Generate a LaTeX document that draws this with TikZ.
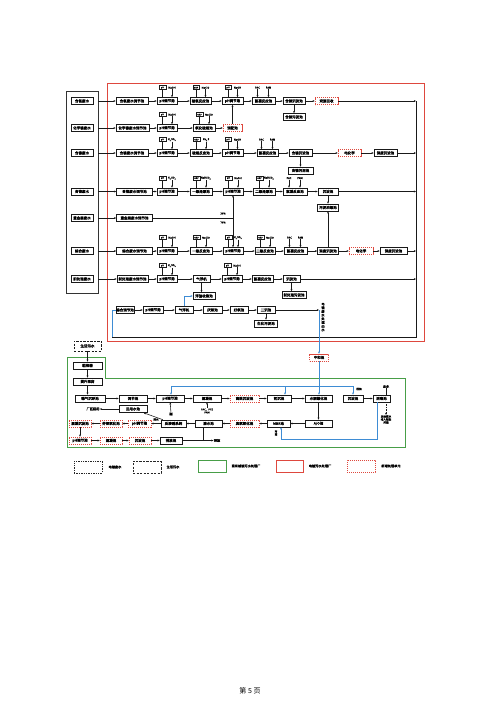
\documentclass[tikz,border=0pt]{standalone}
\usepackage{fontspec}
\setmainfont{Noto Sans CJK SC}[AutoFakeBold=1.6]
\usetikzlibrary{arrows.meta,calc}
\definecolor{redL}{RGB}{222,72,62}
\definecolor{greenL}{RGB}{72,158,72}
\definecolor{blueL}{RGB}{62,140,212}
\newcommand\fsA{\fontsize{3.5}{4}\selectfont\bfseries}
\newcommand\fsC{\fontsize{2.6}{3}\selectfont\bfseries}
\newcommand\fsM{\fontsize{2.2}{2.4}\selectfont\bfseries}
\newcommand\fsL{\fontsize{3.2}{3.8}\selectfont\bfseries}
\newcommand\ssub[1]{\textsubscript{#1}}
\tikzset{
 wd/.style={minimum width=#1pt},
 bx/.style={draw=black!90, line width=0.65pt, fill=white, inner sep=0pt, minimum height=7pt, font=\fsA},
 rdb/.style={bx, draw=redL, line width=0.55pt, dash pattern=on 1.2pt off 0.8pt},
 mtr/.style={draw=black!90, line width=0.5pt, fill=white, inner sep=0pt, minimum width=6.5pt, minimum height=4pt, font=\fsM},
 chem/.style={inner sep=0.2pt, font=\fsC},
 ar/.style={-{Stealth[length=2.2pt,width=1.9pt]}, line width=0.55pt, draw=black!90},
 ln/.style={line width=0.55pt, draw=black!90},
 bl/.style={line width=0.7pt, draw=blueL},
 bla/.style={bl, -{Stealth[length=2.2pt,width=1.9pt]}},
}
\newcommand\dose[3]{%
  \node[mtr] (#1m) at ($(#1.north)+(-4.5,-9.5)$) {#2};
  \draw[ln] (#1m.south) -- (#1m.south |- #1.north);
  \node[chem] (#1c) at ($(#1.north)+(5,-9.5)$) {#3};
  \draw[ar] (#1c.south) -- (#1c.south |- #1.north);
}
\newcommand\dosetwo[3]{%
  \node[chem] (#1c) at ($(#1.north)+(-6,-9.5)$) {#2};
  \draw[ar] (#1c.south) -- (#1c.south |- #1.north);
  \node[chem] (#1d) at ($(#1.north)+(5,-9.5)$) {#3};
  \draw[ar] (#1d.south) -- (#1d.south |- #1.north);
}
\begin{document}
\begin{tikzpicture}[x=1pt,y=-1pt]
\useasboundingbox (0,0) rectangle (500,707);
\fill[white] (0,0) rectangle (500,707);

% frames
\draw[line width=0.9pt, draw=black!80] (66,91) rectangle (98,293);
\draw[line width=0.9pt, draw=redL] (107,83) rectangle (424,341);
\draw[line width=0.9pt, draw=greenL] (67,357) -- (105,357) -- (105,378) -- (405,378) -- (405,447) -- (67,447) -- cycle;
\coordinate (fr) at (98,0);

% sources
\node[bx, wd=22] (s1) at (82,101) {含氰废水};
\node[bx, wd=22] (s2) at (82,128) {化学镍废水};
\node[bx, wd=22] (s3) at (82,153) {含镍废水};
\node[bx, wd=22] (s4) at (82,191.5) {含铬废水};
\node[bx, wd=22] (s5) at (82,218) {重金属废水};
\node[bx, wd=22] (s6) at (82,251) {综合废水};
\node[bx, wd=22] (s7) at (82,279) {前处理废水};

% row 1
\node[bx, wd=32] (a1) at (132,101) {含氰废水调节池};
\node[bx, wd=20] (a2) at (167,101) {pH调节池};
\node[bx, wd=21] (a3) at (200.5,101) {破氰反应池};
\node[bx, wd=21] (a4) at (232.5,101) {pH调节池};
\node[bx, wd=23] (a5) at (263.5,101) {絮凝反应池};
\node[bx, wd=22] (a6) at (294,101) {含铜沉淀池};
\node[bx, wd=22] (a7) at (294,117) {含铜污泥池};
\node[rdb, wd=23] (a8) at (326.5,101) {资源回收};
\dose{a2}{pH}{NaOH}
\dose{a3}{ORP}{NaClO}
\dose{a4}{pH}{NaOH}
\dosetwo{a5}{PAC}{PAM}

% row 2
\node[bx, wd=33] (b1) at (132.5,128) {化学镍废水调节池};
\node[bx, wd=20] (b2) at (167,128) {pH调节池};
\node[bx, wd=22] (b3) at (204,128) {氧化破络池};
\node[rdb, wd=19] (b4) at (232.5,128) {调配池};
\dose{b2}{pH}{NaOH}
\dose{b3}{ORP}{NaClO}

% row 3
\node[bx, wd=32] (c1) at (132,153) {含镍废水调节池};
\node[bx, wd=20] (c2) at (167,153) {pH调节池};
\node[bx, wd=22] (c3) at (201,153) {破络反应池};
\node[bx, wd=21] (c4) at (232.5,153) {pH调节池};
\node[bx, wd=21] (c5) at (267.5,153) {絮凝反应池};
\node[bx, wd=23] (c6) at (300.5,153) {含镍沉淀池};
\node[bx, wd=25] (c7) at (300.5,170.5) {含镍污泥池};
\node[rdb, wd=23] (c8) at (349.5,153) {电化学};
\node[bx, wd=23] (c9) at (385.5,153) {深度沉淀池};
\dose{c2}{pH}{H\ssub{2}SO\ssub{4}}
\dose{c3}{ORP}{Na\ssub{2}S}
\dose{c4}{pH}{NaOH}
\dosetwo{c5}{PAC}{PAM}

% row 4
\node[bx, wd=36] (d1) at (134.5,191.5) {含铬废水调节池};
\node[bx, wd=20] (d2) at (167,191.5) {pH调节池};
\node[bx, wd=22] (d3) at (201,191.5) {一级还原池};
\node[bx, wd=20] (d4) at (233,191.5) {pH调节池};
\node[bx, wd=22] (d5) at (264,191.5) {二级还原池};
\node[bx, wd=24] (d6) at (295,191.5) {絮凝反应池};
\node[bx, wd=20] (d7) at (328,191.5) {沉淀池};
\node[bx, wd=21] (d8) at (328,207.5) {污泥浓缩池};
\dose{d2}{pH}{H\ssub{2}SO\ssub{4}}
\dose{d3}{ORP}{NaHSO\ssub{3}}
\dose{d4}{pH}{NaOH}
\dose{d5}{ORP}{NaHSO\ssub{3}}
\dosetwo{d6}{PAC}{PAM}

% row 5
\node[bx, wd=36] (e1) at (134.5,218) {重金属废水调节池};
\coordinate (j5) at (233,218);

% row 6
\node[bx, wd=36] (f1) at (134.5,251) {综合废水调节池};
\node[bx, wd=20] (f2) at (167,251) {pH调节池};
\node[bx, wd=22] (f3) at (201,251) {一级反应池};
\node[bx, wd=20] (f4) at (233,251) {pH调节池};
\node[bx, wd=20] (f5) at (265,251) {二级反应池};
\node[bx, wd=23] (f6) at (295.5,251) {絮凝反应池};
\node[bx, wd=21] (f7) at (328,251) {深度沉淀池};
\node[rdb, wd=24] (f8) at (361,251) {电化学};
\node[bx, wd=27] (f9) at (393.5,251) {深度沉淀池};
\dose{f2}{pH}{NaOH}
\dose{f3}{ORP}{NaClO}
\dose{f4}{pH}{H\ssub{2}SO\ssub{4}}
\dose{f5}{ORP}{NaClO}
\dosetwo{f6}{PAC}{PAM}

% row 7
\node[bx, wd=31] (g1) at (132.5,279) {前处理废水调节池};
\node[bx, wd=20] (g2) at (167,279) {pH调节池};
\node[bx, wd=17] (g3) at (201.5,279) {气浮机};
\node[bx, wd=20] (g4) at (232,279) {pH调节池};
\node[bx, wd=21] (g5) at (262.5,279) {絮凝反应池};
\node[bx, wd=17] (g6) at (291.5,279) {沉淀池};
\node[bx, wd=24] (g7) at (294,295) {前处理污泥池};
\node[bx, wd=22] (g8) at (204,296) {浮渣收集池};
\dose{g2}{pH}{H\ssub{2}SO\ssub{4}}
\dose{g4}{pH}{NaOH}

% row 8
\node[bx, wd=18] (h1) at (125,310) {综合调节池};
\node[bx, wd=20] (h2) at (153,310) {pH调节池};
\node[bx, wd=18] (h3) at (184,310) {气浮机};
\node[bx, wd=19] (h4) at (212.5,310) {厌氧池};
\node[bx, wd=18] (h5) at (239,310) {好氧池};
\node[bx, wd=18] (h6) at (266,310) {二沉池};
\node[bx, wd=23] (h7) at (266,323.5) {生化污泥池};
\node[inner sep=0pt, align=center, font=\bfseries\fontsize{3.2}{3.7}\selectfont] (vt) at (323,317) {电\\镀\\废\\水\\处\\理\\出\\水};

% source arrows
\foreach \s/\t in {s1/a1,s2/b1,s3/c1,s4/d1,s5/e1,s6/f1,s7/g1}{\draw[ar] (\s.east -| fr) -- (\t.west);}
% row chains
\foreach \p/\q in {a1/a2,a2/a3,a3/a4,a4/a5,a5/a6,a6/a8,b1/b2,b2/b3,b3/b4,c1/c2,c2/c3,c3/c4,c4/c5,c5/c6,c6/c8,c8/c9,d1/d2,d2/d3,d3/d4,d4/d5,d5/d6,d6/d7,f1/f2,f2/f3,f3/f4,f4/f5,f5/f6,f6/f7,f7/f8,f8/f9,g1/g2,g2/g3,g3/g4,g4/g5,g5/g6,h1/h2,h2/h3,h3/h4,h4/h5,h5/h6}{\draw[ar] (\p) -- (\q);}
\draw[ar] (a6) -- (a7);
\draw[ar] (b4) -- (a4);
\draw[ar] (c6) -- (c7);
\draw[ar] (d7) -- (d8);
\draw[ar] (f7) -- (d8);
\draw[ar] (g6.south) -- (g6.south |- g7.north);
\draw[ar] (g3.south) -- (g3.south |- g8.north);
\draw[ar] (h6) -- (h7);
\draw[ln] (e1.east) -- (j5);
\draw[ar] (j5) -- (d4.south);
\draw[ar] (j5) -- (f4.north);
\node[chem] (p30) at (223,213.5) {30\%};
\node[chem] (p70) at (223,222.5) {70\%};
\draw[bla] (h3.north) -- (184,296) -- (g8.west);

% collector bus
\coordinate (busT) at (416,101);
\coordinate (busB) at (416,337);
\coordinate (busL) at (112,337);
\coordinate (busU) at (112,310);
\draw[ln] (busT) -- (busB) -- (busL);
\draw[bl] (busL) -- (busU) -- (h1.west);
\foreach \n in {a8,c9,d7,f9,g6}{\draw[ar] (\n.east) -- (\n.east -| busT);}

% to municipal plant
\coordinate (o1) at (319,310);
\draw[ar] (h6.east) -- (o1);
\node[rdb, wd=19] (zh) at (319,357.5) {中和池};
\draw[bla] (o1) -- (zh.north);

% lower part
\node[bx, wd=27, minimum height=10pt, line width=0.7pt, dash pattern=on 2.2pt off 1.3pt] (L0) at (87.5,346) {生活污水};
\node[bx, wd=29] (L1) at (87.5,365.5) {粗格栅};
\node[bx, wd=29] (L2) at (87.5,381.5) {提升泵房};
\node[bx, wd=30] (L3) at (90,398.5) {曝气沉砂池};
\node[bx, wd=28] (L4) at (133,398.5) {调节池};
\node[bx, wd=28] (L5) at (170,398.5) {pH调节池};
\node[bx, wd=28] (L6) at (207,398.5) {混凝池};
\node[rdb, wd=29] (L7) at (244.5,398.5) {高效沉淀池};
\node[bx, wd=24] (L8) at (279,398.5) {初沉池};
\node[bx, wd=27] (L9) at (318.5,398.5) {水解酸化池};
\node[bx, wd=20] (L10) at (353,398.5) {沉淀池};
\node[bx, wd=17] (L11) at (381.5,398.5) {消毒池};
\node[bx, wd=27] (L12) at (318.5,423.5) {A/O池};
\node[bx, wd=23] (L13) at (278.5,423.5) {MBR池};
\node[rdb, wd=29] (L14) at (244.5,423.5) {臭氧氧化池};
\node[bx, wd=27] (L15) at (208.5,423.5) {清水池};
\node[bx, wd=25] (L16) at (173.5,423.5) {反渗透系统};
\node[rdb, wd=23] (L17) at (139.5,423.5) {pH调节池};
\node[rdb, wd=22] (L18) at (111,423.5) {芬顿氧化池};
\node[rdb, wd=22] (L19) at (80,423.5) {混凝沉淀池};
\node[rdb, wd=22] (M1) at (80,440.5) {pH调节池};
\node[rdb, wd=22] (M2) at (111,440.5) {混凝池};
\node[rdb, wd=22] (M3) at (140,440.5) {沉淀池};
\node[bx, wd=22] (M4) at (171,440.5) {排放池};
\node[bx, wd=28] (R1) at (133,409) {回用水池};
\node[chem, font=\fsL] (tR) at (93,409) {厂区回用};
\node[chem, font=\fsL] (tP) at (217,440.5) {排放};
\node[chem, font=\fsL] (tJ) at (171,414) {碱};
\node[chem, align=center] (tC) at (207,411) {PAC、PFS\\PAM};
\node[chem] (tH) at (156,419.5) {浓水};
\node[chem] (tHL) at (359,389) {回流};
\node[chem, font=\fsL] (tO) at (386,386.5) {出水};
\node[chem, align=center] (tD) at (386,419.5) {达标尾水\\排入附近\\河道};
\node[chem, align=center, font=\fsC] (tS) at (276,433) {污\\泥};
\coordinate (jM) at (203,440.5);

\draw[ar] (L0) -- (L1);
\draw[ar] (L1) -- (L2);
\draw[ar] (L2.south) -- (L2.south |- L3.north);
\foreach \p/\q in {L3/L4,L4/L5,L5/L6,L6/L7,L7/L8,L8/L9,L10/L11,L12/L13,L13/L14,L14/L15,L15/L16,L16/L17,L17/L18,L18/L19,M1/M2,M2/M3,M3/M4}{\draw[ar] (\p) -- (\q);}
\draw[ar] (L9) -- (L12);
\draw[ar] (L19) -- (M1);
\draw[ar] (L16) -- (R1);
\draw[ar] (R1) -- (tR);
\draw[ln] (M4) -- (jM);
\draw[ln] (jM |- L15.south) -- (jM);
\draw[ar] (jM) -- (tP);
\draw[ar] (tJ) -- (L5);
\draw[ar] (tC) -- (L6);
\draw[ln] (L11.north -| tO) -- (tO);
\draw[ar, densely dotted] (L11.south -| tD) -- (tD);

% blue supply lines
\coordinate (jb) at (319,386);
\coordinate (bL) at (171,386);
\coordinate (bR) at (353,386);
\coordinate (b3) at (285,386);
\draw[bl] (zh.south) -- (jb);
\draw[bl] (bL) -- (bR);
\draw[bla] (bL) -- (bL |- L5.north);
\draw[bla] (b3) -- (b3 |- L8.north);
\draw[bla] (jb) -- (jb |- L9.north);
\draw[bla] (bR) -- (bR |- L10.north);
\coordinate (q1) at (377,439);
\coordinate (q2) at (281,439);
\draw[bla] (L11.south -| q1) -- (q1) -- (q2) -- (q2 |- L13.south);

% legend
\node[draw=black!85, line width=0.7pt, dash pattern=on 1.4pt off 1pt, minimum width=28pt, minimum height=12pt, inner sep=0pt] (lg1) at (88,467) {};
\node[chem, font=\fsL] (lt1) at (115,467) {电镀废水};
\node[draw=black!85, line width=0.7pt, dash pattern=on 2.2pt off 1.3pt, minimum width=28pt, minimum height=12pt, inner sep=0pt] (lg2) at (147,467) {};
\node[chem, font=\fsL] (lt2) at (173,467) {生活污水};
\node[draw=greenL, line width=0.9pt, minimum width=28pt, minimum height=12pt, inner sep=0pt] (lg3) at (212,466) {};
\node[chem, font=\fsL] (lt3) at (246,466) {现有城镇污水处理厂};
\node[draw=redL, line width=0.9pt, minimum width=27pt, minimum height=12pt, inner sep=0pt] (lg4) at (289.5,466) {};
\node[chem, font=\fsL] (lt4) at (320,466) {电镀污水处理厂};
\node[draw=redL, line width=0.6pt, dash pattern=on 1.2pt off 0.8pt, minimum width=28pt, minimum height=12pt, inner sep=0pt] (lg5) at (361,466) {};
\node[chem, font=\fsL] (lt5) at (391,466) {新增处理单元};

\node[font=\fontsize{7}{8}\selectfont] (pg) at (250,691) {第 5 页};
\end{tikzpicture}
\end{document}
